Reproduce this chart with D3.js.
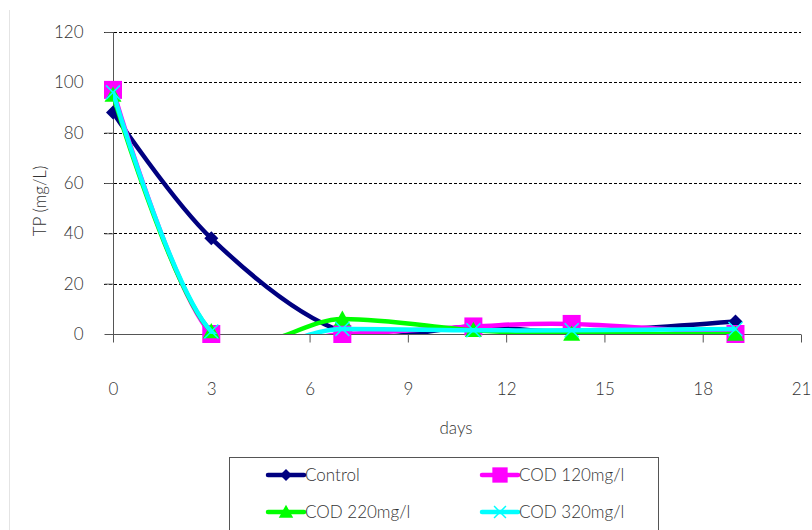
<!DOCTYPE html>
<html>
<head>
<meta charset="utf-8">
<script src="https://cdn.jsdelivr.net/npm/d3@7/dist/d3.min.js"></script>
<style>
  html, body { margin: 0; padding: 0; background: #fff; }
  svg { display: block; }
  text { font-family: Lato, "Open Sans", sans-serif; font-weight: 300; fill: #333; }
</style>
</head>
<body>
<svg id="chart" width="812" height="530"></svg>
<script>
// Sampling days and total phosphorus readings (mg/L) for each treatment
const days = [0, 3, 7, 11, 14, 19];
const control = [88, 38, 1, 3, 1, 5];
const cod120 = [97, 0, 0, 3, 4, 0];
const cod220 = [95, 1, 6, 1.5, 0, 0];
const cod320 = [96, 1, 2, 1.5, 1.5, 2];
const seriesNames = ["Control", "COD 120mg/l", "COD 220mg/l", "COD 320mg/l"];
const xTicks = [0, 3, 6, 9, 12, 15, 18, 21];
const yTicks = [0, 20, 40, 60, 80, 100, 120];

const series = [
  { name: seriesNames[0], values: control, color: "#000080", marker: "diamond" },
  { name: seriesNames[1], values: cod120, color: "#ff00ff", marker: "square" },
  { name: seriesNames[2], values: cod220, color: "#00ff00", marker: "triangle" },
  { name: seriesNames[3], values: cod320, color: "#00ffff", marker: "cross" }
];

const svg = d3.select("#chart");
const plotLeft = 113, plotRight = 801, plotTop = 32, plotBottom = 334;

const x = d3.scaleLinear().domain([0, 21]).range([plotLeft, plotRight]);
const y = d3.scaleLinear().domain([0, 120]).range([plotBottom, plotTop]);

// faint outer frame edge
svg.append("line").attr("x1", 9.5).attr("x2", 9.5).attr("y1", 10).attr("y2", 530)
  .attr("stroke", "#e4e4e4").attr("stroke-width", 1);

// dashed horizontal gridlines
svg.append("g").selectAll("line").data(yTicks.filter(d => d > 0)).join("line")
  .attr("x1", plotLeft - 9).attr("x2", plotRight)
  .attr("y1", d => Math.round(y(d)) + 0.5).attr("y2", d => Math.round(y(d)) + 0.5)
  .attr("stroke", "#000").attr("stroke-width", 1).attr("stroke-dasharray", "3,2");

// y axis
const yAxis = d3.axisLeft(y).tickValues(yTicks).tickSize(9).tickPadding(21);
const gy = svg.append("g").attr("transform", `translate(${plotLeft + 0.5},0)`).call(yAxis);
gy.select(".domain").remove();
gy.selectAll(".tick line").attr("stroke", "#555");
gy.selectAll("text").attr("font-size", 17).style("font-family", "Lato, sans-serif").attr("fill", "#333");
svg.append("line").attr("x1", plotLeft + 0.5).attr("x2", plotLeft + 0.5).attr("y1", plotTop).attr("y2", plotBottom + 8)
  .attr("stroke", "#555");

// x axis
const xAxis = d3.axisBottom(x).tickValues(xTicks).tickSize(8).tickPadding(40);
const gx = svg.append("g").attr("transform", `translate(0,${plotBottom + 0.5})`).call(xAxis);
gx.select(".domain").attr("stroke", "#555").attr("d", `M${plotLeft},0H${plotRight}`);
gx.selectAll(".tick line").attr("stroke", "#555");
gx.selectAll("text").attr("font-size", 17).style("font-family", "Lato, sans-serif").attr("fill", "#333");

// axis titles
svg.append("text").attr("x", (plotLeft + plotRight) / 2 - 1).attr("y", 434).attr("text-anchor", "middle")
  .attr("font-size", 17).text("days");
svg.append("text").attr("transform", `translate(46,${(plotTop + plotBottom) / 2 + 18}) rotate(-90)`)
  .attr("text-anchor", "middle").attr("font-size", 17).text("TP (mg/L)");

// plot area clip
svg.append("clipPath").attr("id", "plot").append("rect")
  .attr("x", plotLeft).attr("y", 0).attr("width", plotRight - plotLeft).attr("height", plotBottom);

const line = d3.line().x((d, i) => x(days[i])).y(d => y(d)).curve(d3.curveCardinal.tension(0));

function drawMarker(g, type, color, cx, cy, s) {
  if (type === "diamond") {
    g.append("path").attr("d", `M${cx},${cy - s}L${cx + s},${cy}L${cx},${cy + s}L${cx - s},${cy}Z`).attr("fill", color);
  } else if (type === "square") {
    g.append("rect").attr("x", cx - s).attr("y", cy - s).attr("width", 2 * s).attr("height", 2 * s).attr("fill", color);
  } else if (type === "triangle") {
    g.append("path").attr("d", `M${cx},${cy - s}L${cx + s},${cy + s * 0.8}L${cx - s},${cy + s * 0.8}Z`).attr("fill", color);
  } else {
    g.append("path").attr("d", `M${cx - s},${cy - s}L${cx + s},${cy + s}M${cx + s},${cy - s}L${cx - s},${cy + s}`)
      .attr("stroke", color).attr("stroke-width", 1.5);
  }
}

const sizes = { diamond: 7, square: 9, triangle: 8.5, cross: 7 };

series.forEach(s => {
  svg.append("path").datum(s.values).attr("d", line).attr("fill", "none")
    .attr("stroke", s.color).attr("stroke-width", 4.5).attr("clip-path", "url(#plot)");
  const g = svg.append("g");
  s.values.forEach((v, i) => drawMarker(g, s.marker, s.color, x(days[i]), y(v), sizes[s.marker]));
});

// legend
svg.append("rect").attr("x", 229.5).attr("y", 457.5).attr("width", 429).attr("height", 80)
  .attr("fill", "#fff").attr("stroke", "#555");
const legendPos = [[268, 475], [482, 475], [268, 512], [482, 512]];
series.forEach((s, i) => {
  const [lx, ly] = legendPos[i];
  const g = svg.append("g");
  g.append("line").attr("x1", lx).attr("x2", lx + 36).attr("y1", ly).attr("y2", ly)
    .attr("stroke", s.color).attr("stroke-width", 4.5).attr("stroke-linecap", "round");
  drawMarker(g, s.marker, s.color, lx + 18, ly, sizes[s.marker] * 0.85);
  g.append("text").attr("x", lx + 37).attr("y", ly + 6).attr("font-size", 17).text(s.name);
});
</script>
</body>
</html>
